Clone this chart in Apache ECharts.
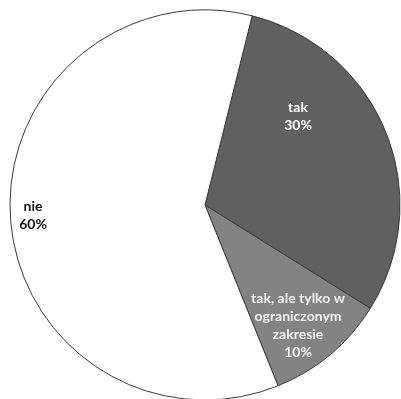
<!DOCTYPE html>
<html>
<head>
<meta charset="utf-8">
<script src="https://cdn.jsdelivr.net/npm/echarts@6/dist/echarts.min.js"></script>
<style>
  html, body { margin: 0; padding: 0; background: #ffffff; }
  #chart { width: 401px; height: 399px; }
</style>
</head>
<body>
<div id="chart"></div>
<script>
// Survey answers and their shares (%)
const categories = ['tak', 'tak, ale tylko w\nograniczonym\nzakresie', 'nie'];
const shares = [30, 10, 60];
const sliceColors = ['#606060', '#838383', '#ffffff'];
const labelColors = ['#ffffff', '#f2f2f2', '#111111'];

// Label anchor points (px) for each slice, in the same order as the categories
const labelAnchors = [[298, 116], [298, 325], [33, 215]];

const chart = echarts.init(document.getElementById('chart'), null, { renderer: 'canvas' });

chart.setOption({
  backgroundColor: '#ffffff',
  animation: false,
  series: [{
    type: 'pie',
    center: [205, 205],
    radius: 195,
    startAngle: 76,
    clockwise: true,
    data: categories.map((name, i) => ({
      name: name,
      value: shares[i],
      itemStyle: { color: sliceColors[i] },
      label: { color: labelColors[i] }
    })),
    itemStyle: { borderColor: '#3a3a3a', borderWidth: 1 },
    label: {
      show: true,
      position: 'inside',
      formatter: p => p.name + '\n' + p.value + '%',
      fontFamily: 'Lato',
      fontWeight: 'bold',
      fontSize: 14,
      lineHeight: 18,
      align: 'center'
    },
    labelLine: { show: false },
    labelLayout: params => ({
      x: labelAnchors[params.dataIndex][0],
      y: labelAnchors[params.dataIndex][1],
      align: 'center',
      verticalAlign: 'middle'
    }),
    emphasis: { disabled: true }
  }]
});
</script>
</body>
</html>
